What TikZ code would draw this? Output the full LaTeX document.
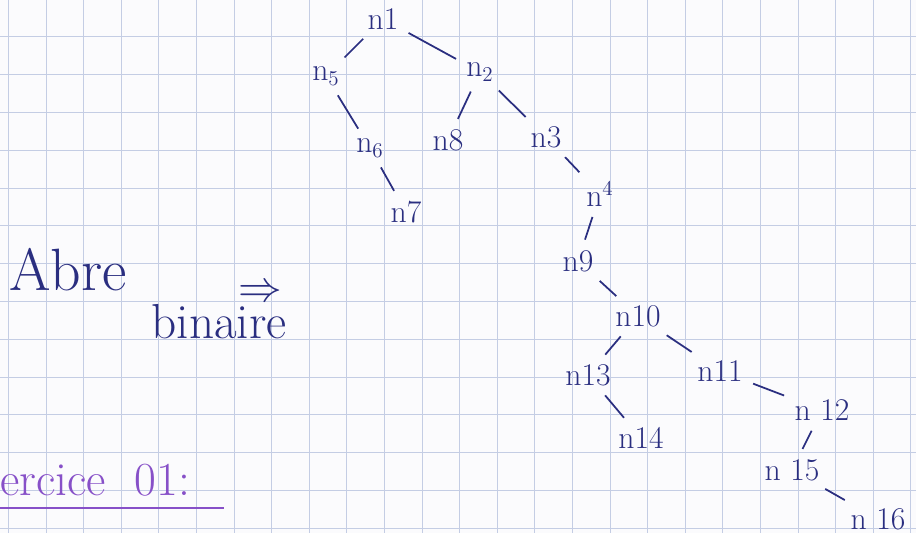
\documentclass[tikz,border=0pt]{standalone}
\usepackage{tikz}
\usetikzlibrary{positioning,calc}
\definecolor{ink}{RGB}{42,46,128}
\definecolor{purpleink}{RGB}{135,80,200}
\definecolor{gridblue}{RGB}{196,205,228}
\definecolor{paper}{RGB}{251,251,253}

\begin{document}
\begin{tikzpicture}[x=0.02cm,y=-0.02cm,
  lbl/.style={text=ink,font=\fontsize{18}{18}\selectfont,inner sep=3pt},
  edge/.style={draw=ink,line width=1pt,shorten <=3pt,shorten >=3pt},
  title/.style={text=purpleink,font=\fontsize{27}{27}\selectfont,inner sep=0pt}
]
\useasboundingbox[fill=paper] (0,0) rectangle (916,533);
% graph paper
\foreach \i in {0,...,24}
  \draw[gridblue,line width=0.5pt] ({8.5+37.6*\i},0) -- ({8.5+37.6*\i},533);
\foreach \j in {1,...,14}
  \draw[gridblue,line width=0.5pt] (0,{-1+37.8*\j}) -- (916,{-1+37.8*\j});

% the tree
\node[lbl] (n1) at (383,19) {n1};
\node[lbl] (n5) at (326,76) {n$_5$};
\node[lbl] (n2) at (480,72) {n$_2$};
\node[lbl] (n6) at (370,148) {n$_6$};
\node[lbl] (n8) at (448,140) {n8};
\node[lbl] (n3) at (546,137) {n3};
\node[lbl] (n7) at (406,212) {n7};
\node[lbl] (n4) at (600,194) {n$^4$};
\node[lbl] (n9) at (578,261) {n9};
\node[lbl] (n10) at (638,316) {n10};
\node[lbl] (n13) at (588,375) {n13};
\node[lbl] (n11) at (720,371) {n11};
\node[lbl] (n14) at (641,438) {n14};
\node[lbl] (n12) at (822,410) {n 12};
\node[lbl] (n15) at (792,470) {n 15};
\node[lbl] (n16) at (878,519) {n 16};

\draw[edge] (n1) -- (n5);
\draw[edge] (n1) -- (n2);
\draw[edge] (n5) -- (n6);
\draw[edge] (n6) -- (n7);
\draw[edge] (n2) -- (n8);
\draw[edge] (n2) -- (n3);
\draw[edge] (n3) -- (n4);
\draw[edge] (n4) -- (n9);
\draw[edge] (n9) -- (n10);
\draw[edge] (n10) -- (n13);
\draw[edge] (n10) -- (n11);
\draw[edge] (n13) -- (n14);
\draw[edge] (n11) -- (n12);
\draw[edge] (n12) -- (n15);
\draw[edge] (n15) -- (n16);

% caption
\node[text=ink,font=\fontsize{34}{34}\selectfont,inner sep=0pt] (abre) at (68,270) {Abre};
\node[text=ink,font=\fontsize{28}{28}\selectfont,inner sep=0pt] (binaire) at (219,322) {binaire};
\node[text=ink,font=\fontsize{28}{28}\selectfont,inner sep=0pt] (implies) at (260,293) {$\Rightarrow$};

% exercise heading
\node[title,anchor=west] (exo) at (0,480) {ercice\ \ 01:};
\coordinate (ulend) at (224,508);
\draw[purpleink,line width=1.2pt] (exo.south west |- ulend) -- (ulend);
\end{tikzpicture}
\end{document}
